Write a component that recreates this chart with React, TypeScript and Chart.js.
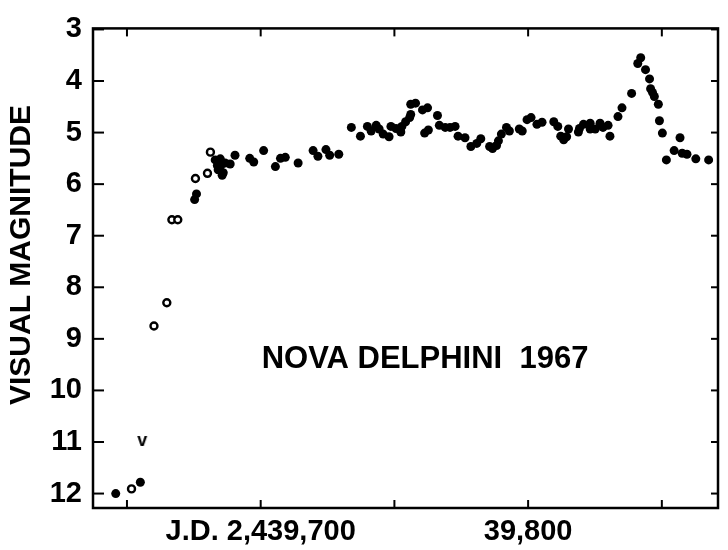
import React, { useEffect, useRef } from "react";
import { Chart, registerables } from "chart.js";

Chart.register(...registerables);

// Julian Date offsets from 2,439,000
const xTickValues = [650, 700, 750, 800, 850];
const xTickLabels = ["", "J.D. 2,439,700", "", "39,800", ""];
const yTickValues = [3, 4, 5, 6, 7, 8, 9, 10, 11, 12];

const filledDays = [
  645.8, 655.0, 675.3, 676.0, 683.0, 684.9, 683.8, 685.2, 686.7, 688.6, 684.1, 686.0, 685.6,
  690.4, 695.9, 697.4, 701.1, 705.5, 707.4, 709.2, 714.0, 719.6, 721.4, 724.4, 725.8, 729.2,
  733.9, 737.3, 739.9, 741.3, 743.2, 744.3, 745.8, 748.0, 748.7, 750.6, 752.4, 752.8, 754.2,
  755.7, 756.1, 756.1, 757.9, 760.5, 762.4, 766.1, 761.3, 762.7, 766.8, 769.0, 770.8, 772.7,
  773.8, 776.4, 778.6, 780.8, 782.3, 785.6, 786.7, 788.2, 788.9, 790.0, 791.9, 793.0, 796.7,
  797.8, 799.6, 801.1, 803.3, 805.2, 809.6, 811.1, 812.2, 813.3, 814.4, 815.1, 818.8, 819.2,
  820.7, 823.2, 823.2, 825.1, 826.9, 828.0, 829.9, 830.6, 833.6, 835.1, 838.7, 841.0, 842.1,
  843.9, 845.4, 845.8, 846.5, 847.2, 848.7, 849.1, 850.2, 851.7, 854.6, 856.8, 857.6, 859.4,
  862.7, 867.5,
];
const filledMags = [
  12.0, 11.78, 6.3, 6.19, 5.53, 5.51, 5.64, 5.63, 5.59, 5.61, 5.72, 5.78, 5.83,
  5.44, 5.5, 5.57, 5.35, 5.66, 5.5, 5.48, 5.59, 5.35, 5.46, 5.33, 5.44, 5.42,
  4.9, 5.07, 4.88, 4.97, 4.86, 4.93, 5.03, 5.08, 4.88, 4.92, 4.99, 4.88, 4.79,
  4.71, 4.65, 4.45, 4.43, 4.56, 4.52, 4.67, 5.01, 4.95, 4.86, 4.9, 4.9, 4.88,
  5.07, 5.1, 5.27, 5.21, 5.12, 5.27, 5.31, 5.25, 5.16, 5.03, 4.9, 4.97, 4.93,
  4.97, 4.75, 4.71, 4.84, 4.8, 4.79, 4.88, 5.07, 5.14, 5.08, 4.93, 4.99, 4.92,
  4.84, 4.93, 4.82, 4.93, 4.82, 4.9, 4.86, 5.07, 4.69, 4.52, 4.24, 3.66, 3.55,
  3.78, 3.96, 4.15, 4.22, 4.3, 4.45, 4.77, 5.01, 5.53, 5.35, 5.1, 5.4, 5.42,
  5.51, 5.53,
];

const openDays = [651.7, 660.1, 664.9, 666.8, 669.0, 675.6, 680.1, 681.2];
const openMags = [11.91, 8.75, 8.3, 6.69, 6.69, 5.89, 5.79, 5.38];

const limitDays = [655.7];
const limitMags = [11.0];

const FONT = "'Liberation Sans', Arial, Helvetica, sans-serif";

function makeVGlyph(): HTMLCanvasElement {
  const c = document.createElement("canvas");
  c.width = 18;
  c.height = 18;
  const g = c.getContext("2d")!;
  g.fillStyle = "#000";
  g.font = `bold 18px ${FONT}`;
  g.textAlign = "center";
  g.textBaseline = "middle";
  g.fillText("v", 9, 8);
  return c;
}

const framePlugin = {
  id: "frameTicks",
  beforeDatasetsDraw(chart: any) {
    const { ctx, chartArea, scales } = chart;
    const { left, right, top, bottom } = chartArea;
    const x = scales.x;
    const y = scales.y;
    ctx.save();
    ctx.strokeStyle = "#000";
    ctx.lineWidth = 2.5;
    ctx.strokeRect(left, top, right - left, bottom - top);
    ctx.lineWidth = 2;
    const line = (x1: number, y1: number, x2: number, y2: number) => {
      ctx.beginPath();
      ctx.moveTo(x1, y1);
      ctx.lineTo(x2, y2);
      ctx.stroke();
    };
    y.ticks.forEach((t: any) => {
      const py = y.getPixelForValue(t.value);
      line(left, py, left + 11, py);
      line(right, py, right - 7, py);
    });
    x.ticks.forEach((t: any) => {
      const px = x.getPixelForValue(t.value);
      line(px, bottom, px, bottom - 8);
      line(px, top, px, top + 8);
    });
    ctx.restore();
  },
  afterDatasetsDraw(chart: any) {
    const { ctx } = chart;
    ctx.save();
    ctx.fillStyle = "#000";
    ctx.font = `bold 31px ${FONT}`;
    ctx.textAlign = "center";
    ctx.textBaseline = "alphabetic";
    ctx.fillText("NOVA DELPHINI  1967", 425, 368);
    // axis title
    ctx.translate(22, 255);
    ctx.rotate(-Math.PI / 2);
    ctx.font = `bold 30px ${FONT}`;
    ctx.textBaseline = "middle";
    ctx.fillText("VISUAL MAGNITUDE", 0, 0);
    ctx.restore();
  },
};

export default function App() {
  const canvasRef = useRef<HTMLCanvasElement | null>(null);

  useEffect(() => {
    if (!canvasRef.current) return;
    const vGlyph = makeVGlyph();
    const chart = new Chart(canvasRef.current, {
      type: "scatter",
      data: {
        datasets: [
          {
            data: filledDays.map((d, i) => ({ x: d, y: filledMags[i] })),
            pointRadius: 4.5,
            pointBackgroundColor: "#000",
            pointBorderColor: "#000",
            pointBorderWidth: 0,
          },
          {
            data: openDays.map((d, i) => ({ x: d, y: openMags[i] })),
            pointRadius: 3.5,
            pointBackgroundColor: "#fff",
            pointBorderColor: "#000",
            pointBorderWidth: 2.4,
          },
          {
            data: limitDays.map((d, i) => ({ x: d, y: limitMags[i] })),
            pointStyle: vGlyph as any,
            pointRadius: 9,
          },
        ],
      },
      options: {
        animation: false,
        responsive: false,
        devicePixelRatio: 1,
        layout: { padding: { top: 12, right: 1, left: 0, bottom: 0 } },
        plugins: {
          legend: { display: false },
          tooltip: { enabled: false },
        },
        scales: {
          x: {
            type: "linear",
            min: 637.3,
            max: 871,
            afterBuildTicks: (s: any) => {
              s.ticks = xTickValues.map((v) => ({ value: v }));
            },
            afterFit: (s: any) => {
              s.height = 42;
            },
            grid: { display: false, drawTicks: false },
            border: { display: false },
            ticks: {
              autoSkip: false,
              maxRotation: 0,
              padding: 7,
              color: "#000",
              font: { family: FONT, weight: "bold", size: 29 },
              callback: (v: any) => {
                const i = xTickValues.indexOf(Number(v));
                return i >= 0 ? xTickLabels[i] : "";
              },
            },
          },
          y: {
            type: "linear",
            reverse: true,
            min: 2.98,
            max: 12.28,
            afterBuildTicks: (s: any) => {
              s.ticks = yTickValues.map((v) => ({ value: v }));
            },
            afterFit: (s: any) => {
              s.width = 93;
            },
            grid: { display: false, drawTicks: false },
            border: { display: false },
            ticks: {
              padding: 11,
              color: "#000",
              font: { family: FONT, weight: "bold", size: 29 },
              callback: (v: any) => String(v),
            },
            title: { display: false },
          },
        },
      },
      plugins: [framePlugin],
    } as any);
    return () => chart.destroy();
  }, []);

  return (
    <div style={{ position: "absolute", left: 0, top: 0, width: 728, height: 550, background: "#fff" }}>
      <canvas ref={canvasRef} width={728} height={550} />
    </div>
  );
}
